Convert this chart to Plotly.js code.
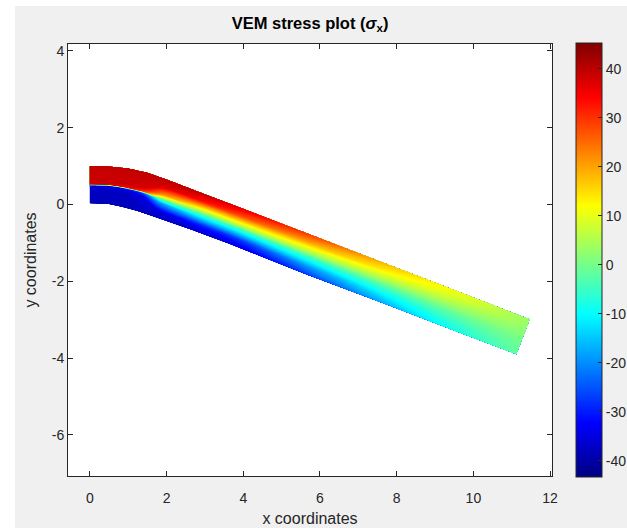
<!DOCTYPE html>
<html>
<head>
<meta charset="utf-8">
<script src="https://cdn.plot.ly/plotly-3.0.1.min.js"></script>
<style>
html,body{margin:0;padding:0;background:#ffffff;}
#chart{position:absolute;left:15px;top:6px;width:612px;height:522px;}
</style>
</head>
<body>
<div id="chart"></div>
<script>
// Beam edges, station by station (root -> free end)
var topX    = [0.00, 0.50, 1.00, 1.50, 2.00, 3.00, 4.00, 6.00, 8.00, 10.00, 11.47];
var topY    = [1.00, 0.99, 0.94, 0.83, 0.65, 0.27, -0.11, -0.88, -1.65, -2.42, -2.99];
var bottomX = [0.00, 0.46, 0.83, 1.22, 1.66, 2.65, 3.65, 5.65, 7.65, 9.65, 11.12];
var bottomY = [0.03, 0.02, -0.06, -0.16, -0.31, -0.66, -1.03, -1.82, -2.57, -3.34, -3.90];

// Through-thickness positions (0 = bottom fibre, 1 = top fibre)
var thickness = [0, 0.2, 0.4, 0.48, 0.5, 0.52, 0.6, 0.8, 1];

// sigma_x at each station, listed bottom -> top
var stress = [
  [-38, -38, -37, -36,  0,  38, 39, 39, 40],
  [-38, -38, -37, -35,  0,  38, 39, 39, 40],
  [-38, -38, -37, -33,  0,  36, 39, 39, 40],
  [-38, -37, -35, -26, -2,  30, 38, 39, 40],
  [-38, -35, -18,  -3,  1,   6, 22, 38, 40],
  [-38, -30, -11,  -3, -1,   2, 11, 33, 40],
  [-36, -28, -10,  -3,  0,   3, 10, 28, 37],
  [-27, -19,  -7,  -2,  0,   2,  7, 19, 28],
  [-17, -11,  -4,  -1, 0.5, 1.5, 5, 12, 17],
  [ -8,  -5, -1.5,  0, 0.5, 1.5, 3,  7, 10],
  [-1.5, -1,   0, 0.5, 1, 1.5, 2, 3, 3.5]
];

var cMin = -43.3, cMax = 45.3;
var xTicks = [0, 2, 4, 6, 8, 10, 12];
var xTickText = ['0', '2', '4', '6', '8', '10', '12'];
var yTicks = [-6, -4, -2, 0, 2, 4];
var yTickText = ['-6', '-4', '-2', '0', '2', '4'];
var cbTicks = [-40, -30, -20, -10, 0, 10, 20, 30, 40];
var cbTickText = ['-40', '-30', '-20', '-10', '0', '10', '20', '30', '40'];

var jet = [[0,'#000080'],[0.125,'#0000ff'],[0.375,'#00ffff'],[0.625,'#ffff00'],[0.875,'#ff0000'],[1,'#800000']];

// carpet tables built from the arrays above
var stations = topX.map(function(_, i){ return i; });
var gx = [], gy = [], gz = [];
thickness.forEach(function(t, j){
  gx.push(topX.map(function(_, i){ return bottomX[i] + t*(topX[i]-bottomX[i]); }));
  gy.push(topY.map(function(_, i){ return bottomY[i] + t*(topY[i]-bottomY[i]); }));
  gz.push(stress.map(function(row){ return row[j]; }));
});

var hiddenAxis = {showgrid:false, showline:false, showticklabels:'none', startline:false, endline:false, ticks:'', minorgridcount:0};

var font = 'Liberation Sans, Arial, Helvetica, sans-serif';
var traces = [
  {
    type:'carpet', carpet:'beam', a:stations, b:thickness, x:gx, y:gy,
    aaxis:Object.assign({smoothing:0}, hiddenAxis),
    baxis:Object.assign({smoothing:0}, hiddenAxis),
    hoverinfo:'skip'
  },
  {
    type:'contourcarpet', carpet:'beam', a:stations, b:thickness, z:gz,
    autocontour:false,
    contours:{start:-43.25, end:45.25, size:0.5, coloring:'fill', showlines:false},
    line:{width:0},
    colorscale:jet, zauto:false, zmin:cMin, zmax:cMax,
    showscale:false
  },
  {
    type:'scatter', mode:'markers', x:[null], y:[null], hoverinfo:'skip', showlegend:false,
    marker:{color:[cMin], cmin:cMin, cmax:cMax, colorscale:jet, showscale:true,
      colorbar:{x:1.0496, xanchor:'left', xpad:0, ypad:0, y:0.5, yanchor:'middle', len:1.005, lenmode:'fraction',
        thickness:26, thicknessmode:'pixels', outlinewidth:1, outlinecolor:'#262626',
        tickmode:'array', tickvals:cbTicks, ticktext:cbTickText, ticks:'inside', ticklen:4, tickcolor:'#262626',
        tickfont:{family:font, size:14, color:'#262626'}}}
  }
];

var axisFont = {family:font, size:14, color:'#262626'};
var layout = {
  width:612, height:522,
  paper_bgcolor:'#f0f0f0', plot_bgcolor:'#ffffff',
  margin:{l:53, r:75, t:38, b:52, autoexpand:false},
  showlegend:false,
  title:{text:'<b>VEM stress plot (<i>σ</i><sub>x</sub>)</b>', x:0.5, xref:'paper', xanchor:'center',
    y:0.967, yref:'container', yanchor:'middle',
    font:{family:font, size:16.5, color:'#000000'}},
  xaxis:{range:[-0.57, 12.05], tickmode:'array', tickvals:xTicks, ticktext:xTickText, showgrid:false, zeroline:false,
    showline:true, linecolor:'#262626', linewidth:1, mirror:'ticks', ticks:'inside', ticklen:5, tickcolor:'#262626',
    ticklabelstandoff:9,
    tickfont:axisFont, title:{text:'x coordinates', font:{family:font, size:16, color:'#262626'}, standoff:8}},
  yaxis:{range:[-7.07, 4.18], tickmode:'array', tickvals:yTicks, ticktext:yTickText, showgrid:false, zeroline:false,
    showline:true, linecolor:'#262626', linewidth:1, mirror:'ticks', ticks:'inside', ticklen:5, tickcolor:'#262626',
    tickfont:axisFont, title:{text:'y coordinates', font:{family:font, size:16, color:'#262626'}, standoff:11}}
};

Plotly.newPlot('chart', traces, layout, {displayModeBar:false, staticPlot:true});
</script>
</body>
</html>
